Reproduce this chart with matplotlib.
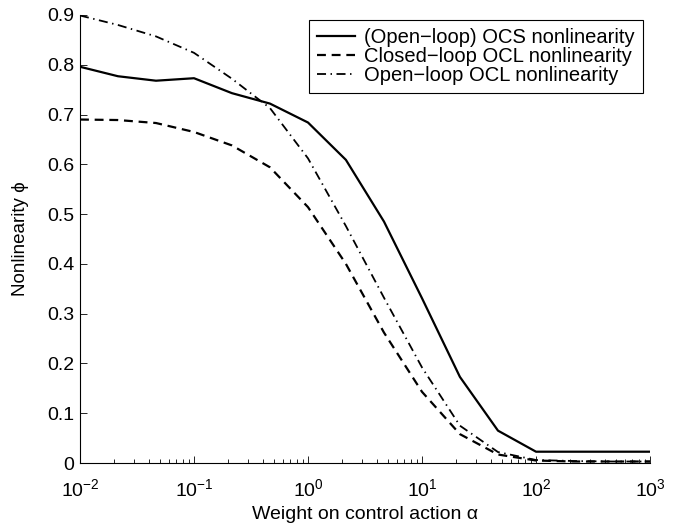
import matplotlib
matplotlib.use("Agg")
import matplotlib.pyplot as plt

plt.rcParams['font.family'] = ['Liberation Sans', 'DejaVu Sans']
plt.rcParams['mathtext.fontset'] = 'custom'
plt.rcParams['mathtext.rm'] = 'Liberation Sans'
plt.rcParams['mathtext.it'] = 'Liberation Sans:italic'

# Weight on control action alpha
alpha_ocs = [0.01, 0.0215, 0.0464, 0.1, 0.215, 0.464, 1.0, 2.15, 4.64, 10.0,
             21.5, 46.4, 100.0, 215.0, 464.0, 1000.0]
ocs = [0.796, 0.777, 0.768, 0.773, 0.743, 0.722, 0.684, 0.609, 0.485, 0.331,
       0.173, 0.065, 0.0227, 0.0227, 0.0227, 0.0227]

alpha_ocl = [0.01, 0.0215, 0.0464, 0.1, 0.215, 0.464, 1.0, 2.15, 4.64, 10.0,
             21.5, 46.4, 100.0, 215.0, 464.0, 1000.0]
closed_ocl = [0.690, 0.689, 0.683, 0.665, 0.638, 0.594, 0.514, 0.400, 0.262, 0.143,
              0.058, 0.017, 0.005, 0.003, 0.003, 0.003]
open_ocl = [0.899, 0.880, 0.857, 0.824, 0.772, 0.713, 0.612, 0.476, 0.332, 0.192,
            0.075, 0.022, 0.006, 0.004, 0.003, 0.003]

labels = ['(Open\u2212loop) OCS nonlinearity',
          'Closed\u2212loop OCL nonlinearity',
          'Open\u2212loop OCL nonlinearity']

fig = plt.figure(figsize=(6.83, 5.24), dpi=100)
ax = fig.add_axes([80/683, 61/524, 570/683, 448/524])

ax.plot(alpha_ocs, ocs, color='black', lw=1.6, linestyle='-', label=labels[0])
ax.plot(alpha_ocl, closed_ocl, color='black', lw=1.6, linestyle=(0, (4, 2.6)), label=labels[1])
ax.plot(alpha_ocl, open_ocl, color='black', lw=1.3, linestyle=(0, (5, 2.5, 0.8, 2.5)), label=labels[2])

ax.set_xscale('log')
ax.set_xlim(1e-2, 1e3)
ax.set_ylim(0, 0.9)
ax.set_yticks([0, 0.1, 0.2, 0.3, 0.4, 0.5, 0.6, 0.7, 0.8, 0.9])
ax.set_yticklabels(['0', '0.1', '0.2', '0.3', '0.4', '0.5', '0.6', '0.7', '0.8', '0.9'])

for s in ['top', 'right']:
    ax.spines[s].set_visible(False)
for s in ['left', 'bottom']:
    ax.spines[s].set_linewidth(0.8)

ax.tick_params(which='both', direction='in', labelsize=14, width=0.6)
ax.tick_params(which='major', length=5)
ax.tick_params(which='minor', length=3)
ax.tick_params(axis='x', pad=11)
ax.tick_params(axis='y', pad=4)

ax.set_xlabel('Weight on control action \u03b1', fontsize=14, labelpad=4)
ax.set_ylabel('Nonlinearity \u03d5', fontsize=13.5, labelpad=13)

leg = ax.legend(loc='upper right', bbox_to_anchor=(0.988, 0.989), fontsize=14.5,
                frameon=True, fancybox=False, edgecolor='black', framealpha=1,
                handlelength=1.9, handletextpad=0.45, borderpad=0.4, labelspacing=0.0,
                borderaxespad=0)
leg.get_frame().set_linewidth(0.8)

fig.savefig('out.png', dpi=100)
